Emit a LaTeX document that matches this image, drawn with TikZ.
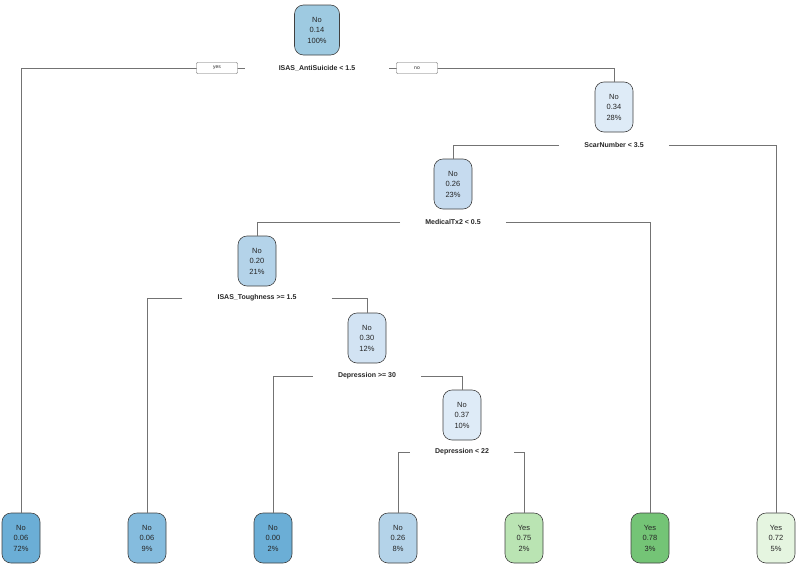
\documentclass[tikz,border=0pt]{standalone}
\usepackage{fontspec}
\setmainfont{Liberation Sans}
\usepackage{tikz}

\definecolor{blueA}{RGB}{107,174,214}
\definecolor{blueB}{RGB}{133,188,222}
\definecolor{blueC}{RGB}{158,202,225}
\definecolor{blueD}{RGB}{180,211,233}
\definecolor{blueE}{RGB}{198,219,239}
\definecolor{blueF}{RGB}{210,227,243}
\definecolor{blueG}{RGB}{222,235,247}
\definecolor{greenA}{RGB}{116,196,118}
\definecolor{greenB}{RGB}{186,228,179}
\definecolor{greenC}{RGB}{229,245,224}

\begin{document}
\begin{tikzpicture}[
    x=1pt, y=-1pt,
    every node/.style={font=\fontsize{7.5}{10.5}\selectfont, align=center, text=black!85},
    tnode/.style={draw=black!75, line width=0.6pt, rounded corners=9pt,
        minimum width=38pt, minimum height=50pt, inner sep=1pt},
    rule/.style={font=\fontsize{7}{8}\selectfont\bfseries, inner xsep=25pt, inner ysep=1pt},
    edge/.style={draw=black!55, line width=0.6pt},
    tag/.style={draw=black!60, fill=white, font=\fontsize{5}{6}\selectfont,
        minimum width=41pt, minimum height=11pt, inner sep=1pt, rounded corners=1pt}
]
\useasboundingbox (0,0) rectangle (800,570);

% inner nodes with their splits
\node[tnode, fill=blueC, minimum width=45pt] (n1) at (317,30) {No\\0.14\\100\%};
\node[rule, inner xsep=34pt] (s1) at (317,68) {ISAS\_AntiSuicide < 1.5};
\node[tnode, fill=blueG] (n2) at (614,107) {No\\0.34\\28\%};
\node[rule] (s2) at (614,145) {ScarNumber < 3.5};
\node[tnode, fill=blueE] (n3) at (453,184) {No\\0.26\\23\%};
\node[rule] (s3) at (453,222) {MedicalTx2 < 0.5};
\node[tnode, fill=blueD] (n4) at (257,261) {No\\0.20\\21\%};
\node[rule, inner xsep=35pt] (s4) at (257,298) {ISAS\_Toughness >= 1.5};
\node[tnode, fill=blueF] (n5) at (367,338) {No\\0.30\\12\%};
\node[rule] (s5) at (367,376) {Depression >= 30};
\node[tnode, fill=blueG] (n6) at (462,415) {No\\0.37\\10\%};
\node[rule] (s6) at (462,452) {Depression < 22};

% leaves
\node[tnode, fill=blueA] (l1) at (21,538) {No\\0.06\\72\%};
\node[tnode, fill=blueB] (l2) at (147,538) {No\\0.06\\9\%};
\node[tnode, fill=blueA] (l3) at (273,538) {No\\0.00\\2\%};
\node[tnode, fill=blueD] (l4) at (398,538) {No\\0.26\\8\%};
\node[tnode, fill=greenB] (l5) at (524,538) {Yes\\0.75\\2\%};
\node[tnode, fill=greenA] (l6) at (650,538) {Yes\\0.78\\3\%};
\node[tnode, fill=greenC] (l7) at (776,538) {Yes\\0.72\\5\%};

% connectors
\draw[edge] (s1.west) -| (l1.north);
\draw[edge] (s1.east) -| (n2.north);
\draw[edge] (s2.west) -| (n3.north);
\draw[edge] (s2.east) -| (l7.north);
\draw[edge] (s3.west) -| (n4.north);
\draw[edge] (s3.east) -| (l6.north);
\draw[edge] (s4.west) -| (l2.north);
\draw[edge] (s4.east) -| (n5.north);
\draw[edge] (s5.west) -| (l3.north);
\draw[edge] (s5.east) -| (n6.north);
\draw[edge] (s6.west) -| (l4.north);
\draw[edge] (s6.east) -| (l5.north);

\node[tag] (yes) at (217,68) {yes};
\node[tag] (no) at (417,68) {no};
\end{tikzpicture}
\end{document}
